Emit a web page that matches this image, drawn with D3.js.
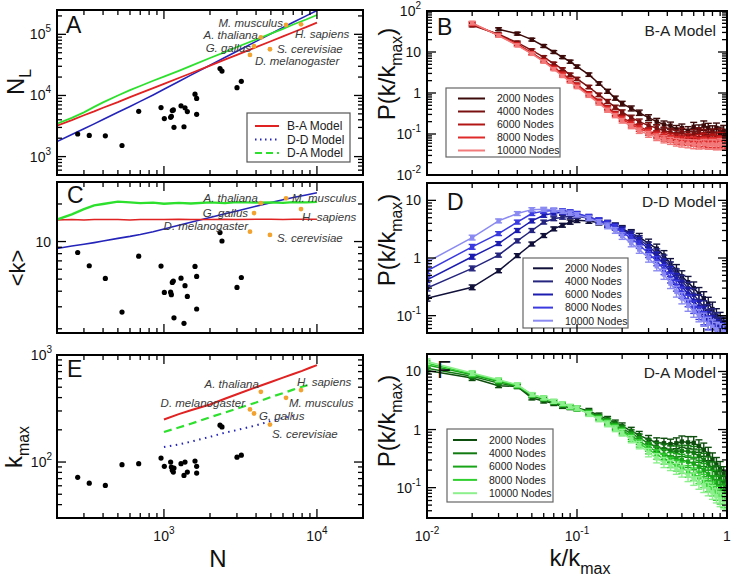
<!DOCTYPE html>
<html>
<head>
<meta charset="utf-8">
<script src="https://cdn.jsdelivr.net/npm/d3@7/dist/d3.min.js"></script>
<style>
  body { margin: 0; background: #fff; }
  svg { display: block; }
</style>
</head>
<body>
<svg id="chart" width="743" height="581"></svg>
<script>
// ── Real networks (black dots) ──
const ORG_N    = [273, 325, 414, 532, 684, 957, 1006, 1106, 1118, 1134, 1152, 1163, 1293, 1352, 1373, 1422, 1596, 1636, 1636, 2325, 2395, 3002, 3205];
const ORG_NL   = [2340, 2220, 2190, 1520, 5510, 6340, 4180, 4390, 4560, 5660, 5810, 3010, 6760, 3080, 6270, 5450, 10500, 8930, 4920, 27500, 25100, 13400, 17000];
const ORG_K    = [8.17, 6.40, 5.06, 2.72, 7.64, 6.36, 3.91, 3.93, 3.75, 4.70, 4.82, 2.45, 5.09, 2.21, 4.43, 3.63, 6.32, 5.25, 2.88, 11.8, 10.1, 4.29, 5.15];
const ORG_KMAX = [71.9, 63.5, 60.5, 94.5, 96.5, 109, 91.1, 100, 89.8, 83.6, 80.6, 87.9, 96.5, 75, 100, 80.6, 102, 91.1, 78.8, 221, 213, 111, 116];

// ── Named organisms (orange dots) ──
const NAMED      = ["M. musculus", "H. sapiens", "A. thaliana", "G. gallus", "S. cerevisiae", "D. melanogaster"];
const NAMED_N    = [6280, 7870, 4300, 3880, 4930, 3650];
const NAMED_NL   = [142000, 146000, 89000, 64000, 57000, 46000];
const NAMED_K    = [22.2, 18.2, 20.3, 16.9, 11.3, 12.0];
const NAMED_KMAX = [398, 470, 453, 284, 224, 310];

// ── Model curves (A, C) ──
const MODEL_N = [200, 250, 300, 350, 400, 500, 600, 700, 850, 1000, 1250, 1500, 2000, 2500, 3000, 4000, 5000, 6000, 7000, 8500, 10000];
const BA_NL = [3200, 3950, 4750, 5500, 6300, 7800, 9400, 10900, 13200, 15500, 19300, 23100, 30800, 38500, 46200, 61600, 77000, 92400, 108000, 131000, 155000];
const DD_NL = [1760, 2300, 2850, 3430, 4040, 5300, 6600, 8000, 10200, 12600, 16900, 21500, 31200, 41800, 52800, 76800, 102500, 129600, 157500, 200600, 246000];
const DA_NL = [3450, 4300, 5300, 6500, 7700, 10000, 12200, 14300, 17400, 20300, 25300, 30500, 41000, 51000, 62000, 82000, 103000, 123000, 145000, 175000, 207000];
const BA_K = [14.9, 15.0, 14.9, 15.0, 15.0, 15.0, 14.9, 15.0, 15.0, 15.0, 15.1, 15.0, 15.0, 15.1, 15.0, 15.1, 15.1, 15.0, 15.1, 15.1, 15.1];
const DD_K = [8.8, 9.2, 9.5, 9.8, 10.1, 10.6, 11.0, 11.4, 12.0, 12.6, 13.5, 14.3, 15.6, 16.7, 17.6, 19.2, 20.5, 21.6, 22.5, 23.6, 24.6];
const DA_K = [15.0, 16.5, 18.2, 19.5, 20.0, 20.9, 20.6, 20.3, 20.5, 20.1, 20.4, 20.2, 20.6, 20.3, 20.7, 20.5, 20.6, 20.4, 20.7, 20.6, 20.8];

// ── Model curves (E) ──
const KMAX_N  = [1000, 1250, 1500, 2000, 2500, 3000, 4000, 5000, 6000, 7000, 8000, 9000, 10000];
const BA_KMAX = [250, 280, 305, 345, 390, 430, 500, 560, 615, 665, 710, 760, 805];
const DA_KMAX = [191, 210, 228, 262, 290, 315, 360, 405, 440, 475, 505, 530, null];
const DD_KMAX = [138, 146, 155, 172, 188, 199, 220, 242, 258, 270, null, null, null];

// ── Degree distributions (B, D, F) ──
const NODES = ["2000 Nodes", "4000 Nodes", "6000 Nodes", "8000 Nodes", "10000 Nodes"];
const KX = [0.01, 0.02, 0.03, 0.04, 0.05, 0.06, 0.07, 0.08, 0.09, 0.10, 0.12, 0.14, 0.16, 0.18, 0.20, 0.23, 0.26, 0.30, 0.34, 0.38, 0.42, 0.46, 0.50, 0.55, 0.60, 0.65, 0.70, 0.75, 0.80, 0.85, 0.90, 0.95, 1.00];
const REL_ERR = [0.12, 0.1, 0.08, 0.08, 0.08, 0.08, 0.08, 0.08, 0.09, 0.09, 0.1, 0.1, 0.12, 0.12, 0.14, 0.15, 0.16, 0.18, 0.2, 0.22, 0.22, 0.24, 0.25, 0.26, 0.28, 0.28, 0.3, 0.3, 0.32, 0.32, 0.34, 0.35, 0.35];
const BA_DIST = [
  [null, null, 36, 28, 20, 14, 10, 7.5, 5.8, 4.4, 2.8, 1.7, 1.1, 0.75, 0.55, 0.42, 0.33, 0.25, 0.2, 0.17, 0.16, 0.13, 0.14, 0.12, 0.15, 0.13, 0.16, 0.14, 0.12, 0.14, 0.11, 0.12, 0.09],
  [null, 45, 27, 17, 11, 7.5, 5.2, 3.8, 2.8, 2.2, 1.4, 0.9, 0.62, 0.45, 0.34, 0.25, 0.2, 0.16, 0.14, 0.12, 0.11, 0.1, 0.11, 0.09, 0.1, 0.11, 0.1, 0.09, 0.1, 0.085, 0.1, 0.08, 0.08],
  [null, 48, 26, 15.5, 9.5, 6.2, 4.2, 3.0, 2.1, 1.6, 0.98, 0.64, 0.44, 0.32, 0.25, 0.19, 0.15, 0.12, 0.1, 0.09, 0.085, 0.08, 0.075, 0.08, 0.07, 0.075, 0.08, 0.07, 0.075, 0.07, 0.08, 0.065, 0.07],
  [null, 50, 25.5, 15, 9.2, 6.0, 4.0, 2.8, 2.0, 1.5, 0.92, 0.6, 0.41, 0.3, 0.23, 0.17, 0.135, 0.11, 0.092, 0.082, 0.076, 0.07, 0.068, 0.066, 0.065, 0.062, 0.064, 0.06, 0.062, 0.06, 0.063, 0.058, 0.06],
  [null, 51, 25, 14.5, 9.0, 5.8, 3.8, 2.6, 1.9, 1.4, 0.86, 0.56, 0.38, 0.28, 0.21, 0.155, 0.12, 0.098, 0.083, 0.074, 0.068, 0.063, 0.06, 0.058, 0.056, 0.055, 0.057, 0.055, 0.056, 0.054, 0.057, 0.055, 0.056]
];
const DD_DIST = [
  [0.2, 0.31, 0.6, 1.1, 1.75, 2.45, 3.2, 3.7, 4.2, 4.5, 4.4, 4.1, 3.8, 3.6, 3.2, 2.7, 2.3, 1.8, 1.45, 1.1, 0.8, 0.62, 0.48, 0.38, 0.3, 0.24, 0.2, 0.16, 0.13, 0.1, 0.085, 0.07, 0.06],
  [0.3, 0.66, 1.12, 1.98, 3.0, 4.2, 4.8, 5.1, 5.3, 5.3, 4.9, 4.4, 4.0, 3.6, 3.1, 2.6, 2.1, 1.6, 1.2, 0.92, 0.7, 0.52, 0.4, 0.3, 0.23, 0.18, 0.14, 0.12, 0.1, 0.085, 0.07, 0.062, 0.055],
  [0.42, 1.05, 1.78, 3.0, 4.4, 5.5, 6.0, 6.2, 6.1, 5.8, 5.1, 4.5, 4.0, 3.5, 3.0, 2.45, 1.95, 1.45, 1.05, 0.78, 0.58, 0.43, 0.32, 0.24, 0.18, 0.14, 0.11, 0.09, 0.075, 0.065, 0.058, 0.054, 0.052],
  [0.6, 1.56, 2.65, 4.2, 5.9, 6.5, 6.7, 6.6, 6.3, 5.9, 5.2, 4.5, 3.9, 3.4, 2.8, 2.2, 1.7, 1.2, 0.88, 0.63, 0.45, 0.33, 0.25, 0.18, 0.14, 0.11, 0.09, 0.075, 0.065, 0.058, 0.054, 0.052, 0.05],
  [0.85, 2.26, 4.4, 5.9, 6.9, 7.0, 6.8, 6.4, 6.0, 5.6, 4.9, 4.2, 3.6, 3.0, 2.4, 1.8, 1.4, 1.0, 0.72, 0.52, 0.36, 0.26, 0.2, 0.15, 0.12, 0.1, 0.085, 0.072, 0.064, 0.058, 0.054, 0.052, 0.05]
];
const DA_DIST = [
  [10.4, 7.7, 5.7, 5.5, 3.5, 3.1, 2.8, 2.5, 2.4, 2.35, 2.1, 1.75, 1.5, 1.3, 1.14, 0.95, 0.8, 0.67, 0.6, 0.58, 0.56, 0.58, 0.62, 0.6, 0.59, 0.52, 0.45, 0.38, 0.3, 0.25, 0.21, 0.17, 0.14],
  [11.4, 8.3, 6.3, 5.5, 3.8, 3.3, 2.95, 2.65, 2.45, 2.3, 2.0, 1.65, 1.4, 1.2, 1.04, 0.86, 0.72, 0.58, 0.5, 0.46, 0.43, 0.42, 0.43, 0.42, 0.4, 0.35, 0.3, 0.26, 0.21, 0.18, 0.15, 0.12, 0.1],
  [13.0, 8.8, 6.7, 5.6, 3.9, 3.4, 3.0, 2.7, 2.45, 2.3, 1.95, 1.6, 1.35, 1.13, 0.97, 0.78, 0.64, 0.5, 0.42, 0.37, 0.33, 0.31, 0.3, 0.28, 0.26, 0.23, 0.2, 0.17, 0.15, 0.12, 0.1, 0.085, 0.075],
  [13.9, 9.1, 7.0, 5.8, 4.0, 3.5, 3.05, 2.75, 2.45, 2.3, 1.9, 1.55, 1.3, 1.08, 0.92, 0.72, 0.58, 0.45, 0.37, 0.31, 0.27, 0.24, 0.22, 0.19, 0.17, 0.15, 0.13, 0.11, 0.095, 0.08, 0.07, 0.062, 0.058],
  [14.8, 9.4, 7.2, 5.9, 4.0, 3.5, 3.06, 2.8, 2.5, 2.35, 1.85, 1.5, 1.25, 1.03, 0.88, 0.68, 0.54, 0.4, 0.32, 0.27, 0.24, 0.21, 0.19, 0.16, 0.14, 0.12, 0.107, 0.094, 0.083, 0.072, 0.063, 0.058, 0.055]
];

const FONT = "'Liberation Sans', Arial, Helvetica, sans-serif";
const RED = "#e02222", BLUE = "#2424bb", GREEN = "#2ee02e", ORANGE = "#f2a22e";
const B_COLORS = ["#3d0a0a", "#7a1010", "#b31515", "#e02a2a", "#f27a7a"];
const D_COLORS = ["#10103a", "#25257f", "#1c1cb0", "#3a3ae0", "#8a8af2"];
const F_COLORS = ["#0d4d0d", "#117a11", "#19a519", "#2fd02f", "#8cf08c"];

// label offsets (dx, dy, anchor) for the named organisms, per panel
const LABEL_POS = {
  A: [[-3, 2, "end"], [-6, 14, "start"], [-3, 2, "end"], [-3, 5.5, "end"], [7, 3.5, "start"], [5, 10.5, "start"]],
  C: [[6, 4, "start"], [1, 12, "start"], [-3, -1.5, "end"], [-6, 3.5, "end"], [7, 7.5, "start"], [-2, -2, "end"]],
  E: [[3, 9, "start"], [-4, -4.5, "start"], [-2, -4, "end"], [5, 6.5, "start"], [2, 13.5, "start"], [-5, -2.5, "end"]]
};

const svg = d3.select("#chart");

// ── Scales ──
const xL = d3.scaleLog().domain([200, 20000]).range([57, 363]);
const xR = d3.scaleLog().domain([0.01, 1]).range([427, 727]);
const yA = d3.scaleLog().domain([500, 2.5e5]).range([175, 10]);
const yC = d3.scaleLog().domain([1.85, 30]).range([333, 182]);
const yE = d3.scaleLog().domain([30, 1000]).range([518, 355]);
const yB = d3.scaleLog().domain([0.01, 100]).range([175, 11]);
const yD = d3.scaleLog().domain([0.05, 20]).range([333, 183]);
const yF = d3.scaleLog().domain([0.03, 20]).range([518, 354]);

function logTicks(domain) {
  const out = [];
  const a = domain[0], b = domain[1];
  for (let e = Math.floor(Math.log10(a)); e <= Math.ceil(Math.log10(b)); e++) {
    for (let m = 1; m <= 9; m++) {
      const v = m * Math.pow(10, e);
      if (v >= a * 0.999 && v <= b * 1.001) out.push({ v: v, major: m === 1 });
    }
  }
  return out;
}

function panel(x, y, id) {
  const [x0, x1] = x.range(), [yb, yt] = y.range();
  svg.append("clipPath").attr("id", id)
    .append("rect").attr("x", x0).attr("y", yt).attr("width", x1 - x0).attr("height", yb - yt);
  const g = svg.append("g");
  const plot = g.append("g").attr("clip-path", `url(#${id})`);
  return { g, plot };
}

function frame(g, x, y) {
  const [x0, x1] = x.range(), [yb, yt] = y.range();
  const tg = g.append("g").attr("stroke", "#000").attr("stroke-width", 1.3);
  logTicks(x.domain()).forEach(t => {
    const px = x(t.v), len = t.major ? 9 : 5;
    tg.append("line").attr("x1", px).attr("x2", px).attr("y1", yb).attr("y2", yb - len);
    tg.append("line").attr("x1", px).attr("x2", px).attr("y1", yt).attr("y2", yt + len);
  });
  logTicks(y.domain()).forEach(t => {
    const py = y(t.v), len = t.major ? 9 : 5;
    tg.append("line").attr("y1", py).attr("y2", py).attr("x1", x0).attr("x2", x0 + len);
    tg.append("line").attr("y1", py).attr("y2", py).attr("x1", x1).attr("x2", x1 - len);
  });
  g.append("rect").attr("x", x0).attr("y", yt).attr("width", x1 - x0).attr("height", yb - yt)
    .attr("fill", "none").attr("stroke", "#000").attr("stroke-width", 2);
}

function powLabel(px, py, v, anchor) {
  const e = Math.round(Math.log10(v));
  const t = svg.append("text").attr("x", px).attr("y", py).attr("text-anchor", anchor)
    .attr("font-family", FONT).attr("font-size", 14).attr("fill", "#111");
  if (e === 0) { t.text("1"); return; }
  if (e === 1) { t.text("10"); return; }
  t.append("tspan").text("10");
  t.append("tspan").attr("dy", -7).attr("font-size", 10).text(e);
}

function yLabels(y, x, vals) {
  vals.forEach(v => powLabel(x, y(v) + 5, v, "end"));
}

function line(x, y, xs, ys) {
  const pts = xs.map((n, i) => [n, ys[i]]).filter(p => p[1] != null);
  return d3.line().x(p => x(p[0])).y(p => y(p[1]))(pts);
}

function letter(px, py, s) {
  svg.append("text").attr("x", px).attr("y", py).attr("font-family", FONT)
    .attr("font-size", 23).attr("fill", "#111").text(s);
}

// ── Left panels (A, C, E) ──
function organismPanel(id, y, orgVals, namedVals, models, labelPos) {
  const p = panel(xL, y, id);
  models.forEach(m => {
    p.plot.append("path").attr("d", line(xL, y, m.xs, m.ys))
      .attr("fill", "none").attr("stroke", m.color).attr("stroke-width", m.width)
      .attr("stroke-dasharray", m.dash || null);
  });
  p.plot.selectAll("circle.org").data(ORG_N).enter().append("circle")
    .attr("cx", d => xL(d)).attr("cy", (d, i) => y(orgVals[i])).attr("r", 2.6).attr("fill", "#000");
  p.plot.selectAll("circle.named").data(NAMED_N).enter().append("circle")
    .attr("cx", d => xL(d)).attr("cy", (d, i) => y(namedVals[i])).attr("r", 2.4).attr("fill", ORANGE);
  NAMED.forEach((name, i) => {
    const o = labelPos[i];
    p.g.append("text").attr("x", xL(NAMED_N[i]) + o[0]).attr("y", y(namedVals[i]) + o[1])
      .attr("text-anchor", o[2]).attr("font-family", FONT).attr("font-size", 11.5)
      .attr("font-style", "italic").attr("fill", "#3a3a3a").text(name);
  });
  frame(p.g, xL, y);
  return p;
}

const pA = organismPanel("clipA", yA, ORG_NL, NAMED_NL, [
  { xs: MODEL_N, ys: DD_NL, color: BLUE, width: 1.6 },
  { xs: MODEL_N, ys: BA_NL, color: RED, width: 1.8 },
  { xs: MODEL_N, ys: DA_NL, color: GREEN, width: 1.8 }
], LABEL_POS.A);
yLabels(yA, 51, [1e3, 1e4, 1e5]);
letter(66, 33, "A");

// A legend
const legA = pA.g.append("g");
legA.append("rect").attr("x", 247).attr("y", 113).attr("width", 103).attr("height", 49)
  .attr("fill", "#fff").attr("stroke", "#555").attr("stroke-width", 1.2);
[["B-A Model", RED, null], ["D-D Model", BLUE, "1.5,3.5"], ["D-A Model", GREEN, "7,4"]].forEach((d, i) => {
  const cy = 126 + i * 13.5;
  legA.append("line").attr("x1", 255).attr("x2", 279).attr("y1", cy).attr("y2", cy)
    .attr("stroke", d[1]).attr("stroke-width", 2).attr("stroke-dasharray", d[2]);
  legA.append("text").attr("x", 287).attr("y", cy + 4).attr("font-family", FONT)
    .attr("font-size", 12).attr("fill", "#222").text(d[0]);
});

organismPanel("clipC", yC, ORG_K, NAMED_K, [
  { xs: MODEL_N, ys: DD_K, color: BLUE, width: 1.6 },
  { xs: MODEL_N, ys: BA_K, color: RED, width: 1.6 },
  { xs: MODEL_N, ys: DA_K, color: GREEN, width: 2.4 }
], LABEL_POS.C);
yLabels(yC, 51, [10]);
letter(67, 203, "C");

organismPanel("clipE", yE, ORG_KMAX, NAMED_KMAX, [
  { xs: KMAX_N, ys: DD_KMAX, color: BLUE, width: 2, dash: "1.5,4.5" },
  { xs: KMAX_N, ys: DA_KMAX, color: GREEN, width: 2.2, dash: "8,5" },
  { xs: KMAX_N, ys: BA_KMAX, color: RED, width: 2 }
], LABEL_POS.E);
yLabels(yE, 52, [1e2, 1e3]);
letter(67, 377, "E");
[1e3, 1e4].forEach(v => powLabel(xL(v), 541, v, "middle"));

// ── Right panels (B, D, F) ──
function distPanel(id, y, series, colors, title, titleY, leg) {
  const p = panel(xR, y, id);
  series.forEach((vals, si) => {
    const pts = KX.map((k, i) => ({ k: k, v: vals[i], e: REL_ERR[i] })).filter(d => d.v != null);
    const c = colors[si];
    p.plot.append("path").datum(pts)
      .attr("d", d3.line().x(d => xR(d.k)).y(d => y(d.v)))
      .attr("fill", "none").attr("stroke", c).attr("stroke-width", 1.5);
    const eg = p.plot.append("g").attr("stroke", c).attr("stroke-width", 1.4);
    pts.forEach(d => {
      const cx = xR(d.k), hi = y(d.v * (1 + d.e)), lo = y(d.v / (1 + d.e));
      eg.append("line").attr("x1", cx).attr("x2", cx).attr("y1", hi).attr("y2", lo);
      eg.append("line").attr("x1", cx - 3.5).attr("x2", cx + 3.5).attr("y1", hi).attr("y2", hi);
      eg.append("line").attr("x1", cx - 3.5).attr("x2", cx + 3.5).attr("y1", lo).attr("y2", lo);
    });
    p.plot.selectAll(null).data(pts).enter().append("rect")
      .attr("x", d => xR(d.k) - 2.2).attr("y", d => y(d.v) - 2.2)
      .attr("width", 4.4).attr("height", 4.4).attr("fill", c);
  });
  // legend
  const lg = p.g.append("g");
  lg.append("rect").attr("x", leg.x).attr("y", leg.y).attr("width", leg.w).attr("height", leg.h)
    .attr("fill", "#fff").attr("stroke", "#666").attr("stroke-width", 1.2);
  NODES.forEach((name, i) => {
    const cy = leg.row0 + i * leg.step;
    lg.append("line").attr("x1", leg.lx0).attr("x2", leg.lx1).attr("y1", cy).attr("y2", cy)
      .attr("stroke", colors[i]).attr("stroke-width", 2);
    lg.append("text").attr("x", leg.tx).attr("y", cy + 3.8).attr("font-family", FONT)
      .attr("font-size", 10.5).attr("fill", "#222").text(name);
  });
  p.g.append("text").attr("x", 716).attr("y", titleY).attr("text-anchor", "end")
    .attr("font-family", FONT).attr("font-size", 15.5).attr("fill", "#222").text(title);
  frame(p.g, xR, y);
}

distPanel("clipB", yB, BA_DIST, B_COLORS, "B-A Model", 36,
  { x: 446, y: 88, w: 114, h: 69, lx0: 458, lx1: 485, tx: 497, row0: 98.5, step: 13 });
yLabels(yB, 421, [1e-2, 1e-1, 1, 10, 100]);
letter(437, 35, "B");

distPanel("clipD", yD, DD_DIST, D_COLORS, "D-D Model", 207,
  { x: 523, y: 258, w: 105, h: 70, lx0: 533, lx1: 553, tx: 565, row0: 268.3, step: 13.1 });
yLabels(yD, 421, [0.1, 1, 10]);
letter(447, 210, "D");

distPanel("clipF", yF, DA_DIST, F_COLORS, "D-A Model", 378,
  { x: 447, y: 429, w: 106, h: 73, lx0: 453, lx1: 477, tx: 489, row0: 440, step: 13.3 });
yLabels(yF, 421, [0.1, 1, 10]);
letter(437, 378, "F");
[0.01, 0.1, 1].forEach(v => powLabel(xR(v), 541, v, "middle"));

// ── Axis titles ──
function rotTitle(px, py, main, sub, size) {
  const t = svg.append("text").attr("transform", `translate(${px},${py}) rotate(-90)`)
    .attr("text-anchor", "middle").attr("font-family", FONT).attr("font-size", size).attr("fill", "#111");
  t.append("tspan").text(main);
  if (sub) {
    t.append("tspan").attr("dy", 7).attr("font-size", size * 0.66).text(sub);
    if (sub === "max" && main.startsWith("P")) t.append("tspan").attr("dy", -7).text(")");
  }
}
rotTitle(24, 82, "N", "L", 24);
rotTitle(25, 268, "<k>", null, 22);
rotTitle(22, 447, "k", "max", 24);
[74, 240, 421].forEach(cy => rotTitle(395, cy, "P(k/k", "max", 24));

svg.append("text").attr("x", 218).attr("y", 567).attr("text-anchor", "middle")
  .attr("font-family", FONT).attr("font-size", 24).attr("fill", "#111").text("N");
const kt = svg.append("text").attr("x", 580).attr("y", 566).attr("text-anchor", "middle")
  .attr("font-family", FONT).attr("font-size", 24).attr("fill", "#111");
kt.append("tspan").text("k/k");
kt.append("tspan").attr("dy", 8).attr("font-size", 16).text("max");
</script>
</body>
</html>
